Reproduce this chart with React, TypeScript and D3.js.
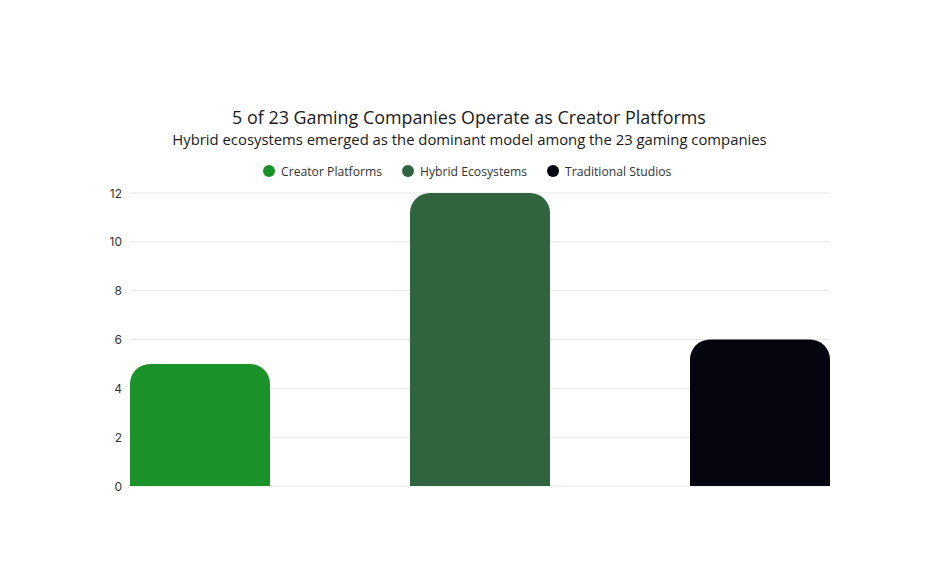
import React, { useEffect, useRef } from "react";
import * as d3 from "d3";

const categories = ["Creator Platforms", "Hybrid Ecosystems", "Traditional Studios"];
const values = [5, 12, 6];
const colors = ["#1b9129", "#2f643e", "#05050f"];
const yTicks = [0, 2, 4, 6, 8, 10, 12];
const title = "5 of 23 Gaming Companies Operate as Creator Platforms";
const subtitle = "Hybrid ecosystems emerged as the dominant model among the 23 gaming companies";

const W = 945;
const H = 561;
const FONT = "'Open Sans', 'Noto Sans', sans-serif";

export default function App() {
  const ref = useRef<SVGSVGElement | null>(null);

  useEffect(() => {
    const svg = d3.select(ref.current);
    svg.selectAll("*").remove();

    const left = 130, right = 830, top = 193, bottom = 486;
    const x = d3.scaleBand<string>().domain(categories).range([left, right]).paddingInner(0.5).paddingOuter(0);
    const y = d3.scaleLinear().domain([0, 12]).range([bottom, top]);

    svg.append("rect").attr("width", W).attr("height", H).attr("fill", "#ffffff");

    svg.append("text")
      .attr("x", 469).attr("y", 124)
      .attr("text-anchor", "middle")
      .attr("font-family", FONT).attr("font-size", 17.9).attr("fill", "#1a1a1a")
      .text(title);
    svg.append("text")
      .attr("x", 469.5).attr("y", 145)
      .attr("text-anchor", "middle")
      .attr("font-family", FONT).attr("font-size", 14.85).attr("fill", "#1a1a1a")
      .text(subtitle);

    // legend
    const legendX = [269, 408, 553];
    const lg = svg.append("g");
    categories.forEach((c, i) => {
      lg.append("circle").attr("cx", legendX[i]).attr("cy", 171).attr("r", 6).attr("fill", colors[i]);
      lg.append("text")
        .attr("x", legendX[i] + 12).attr("y", 175.5)
        .attr("font-family", FONT).attr("font-size", 12.2).attr("fill", "#333")
        .text(c);
    });

    // grid
    const g = svg.append("g");
    g.selectAll("line.grid").data(yTicks).enter().append("line")
      .attr("x1", left).attr("x2", right)
      .attr("y1", (d) => y(d)).attr("y2", (d) => y(d))
      .attr("stroke", "#e6e6e6").attr("stroke-width", 1);
    g.selectAll("text.tick").data(yTicks).enter().append("text")
      .attr("x", 122).attr("y", (d) => y(d) + 4.5)
      .attr("text-anchor", "end")
      .attr("font-family", "Inter, Roboto, sans-serif").attr("font-size", 12).attr("fill", "#333")
      .text((d) => String(d));

    const r = 20;
    const barPath = (x0: number, w: number, yTop: number, yBot: number) => {
      const rr = Math.min(r, (yBot - yTop), w / 2);
      return `M${x0},${yBot} L${x0},${yTop + rr} A${rr},${rr} 0 0 1 ${x0 + rr},${yTop} L${x0 + w - rr},${yTop} A${rr},${rr} 0 0 1 ${x0 + w},${yTop + rr} L${x0 + w},${yBot} Z`;
    };

    g.selectAll("path.bar").data(values).enter().append("path")
      .attr("d", (d, i) => barPath(x(categories[i])!, x.bandwidth(), y(d), y(0)))
      .attr("fill", (_d, i) => colors[i]);
  }, []);

  return (
    <svg ref={ref} width={W} height={H} style={{ position: "absolute", left: 0, top: 0, display: "block" }} />
  );
}
